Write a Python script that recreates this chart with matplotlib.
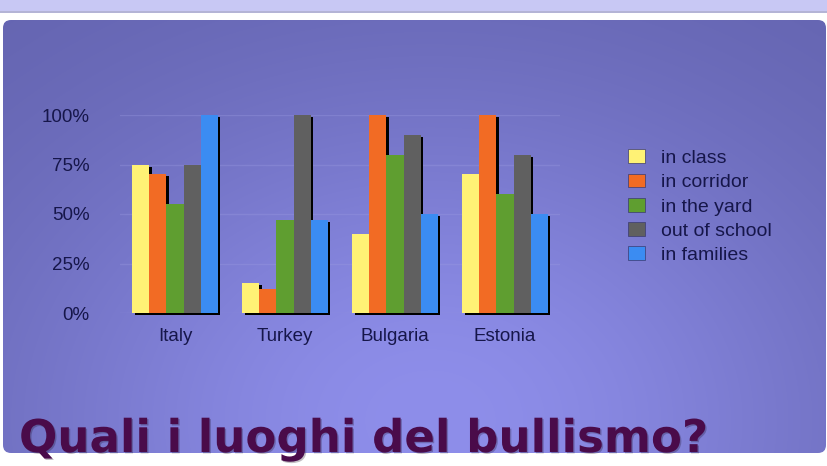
import numpy as np
import matplotlib
matplotlib.use("Agg")
import matplotlib.pyplot as plt
import matplotlib.patheffects as pe
from matplotlib.patches import FancyBboxPatch, Rectangle

countries = ["Italy", "Turkey", "Bulgaria", "Estonia"]
places = ["in class", "in corridor", "in the yard", "out of school", "in families"]
in_class = [75, 15, 40, 70]
in_corridor = [70, 12, 100, 100]
in_the_yard = [55, 47, 80, 60]
out_of_school = [75, 100, 90, 80]
in_families = [100, 47, 50, 50]
yticks = [0, 25, 50, 75, 100]
ytick_labels = ["0%", "25%", "50%", "75%", "100%"]
title = "Quali i luoghi del bullismo?"

series = [in_class, in_corridor, in_the_yard, out_of_school, in_families]
colors = ["#fff275", "#f26b24", "#5f9e30", "#606060", "#3b8cf2"]
text_col = "#16164a"

W, H = 828, 466
fig = plt.figure(figsize=(W / 100, H / 100), dpi=100, facecolor="white")


def fx(px):
    return px / W


def fy(py):
    # pixel from top -> figure fraction from bottom
    return 1 - py / H


# top lavender band
fig.patches.append(Rectangle((0, fy(12)), 1, 12 / H, transform=fig.transFigure,
                             facecolor="#c8c8f4", edgecolor="none", zorder=0))
fig.patches.append(Rectangle((0, fy(13)), 1, 1.5 / H, transform=fig.transFigure,
                             facecolor="#b4b4d6", edgecolor="none", zorder=0))

# rounded purple panel with a soft gradient
bg = fig.add_axes([0, 0, 1, 1], zorder=-1)
bg.set_xlim(0, W)
bg.set_ylim(H, 0)
bg.axis("off")
yy, xx = np.mgrid[0:H, 0:W]
t = np.exp(-((xx - 430) / 430.0) ** 2 - ((yy - 420) / 330.0) ** 2)
dark = np.array([0x62, 0x62, 0xad]) / 255
light = np.array([0x8e, 0x8e, 0xea]) / 255
img = dark + (light - dark) * t[..., None]
panel = FancyBboxPatch((3, 20), 823, 433, boxstyle="round,pad=0,rounding_size=8",
                       facecolor="none", edgecolor="none", transform=bg.transData)
bg.add_patch(panel)
im = bg.imshow(img, extent=(0, W, H, 0), aspect="auto", interpolation="bilinear")
im.set_clip_path(panel)

# bar chart
ax = fig.add_axes([fx(120), fy(313), 440 / W, 198 / H])
ax.patch.set_visible(False)
x = np.arange(len(countries))
width = 0.155
for i, (vals, col) in enumerate(zip(series, colors)):
    bars = ax.bar(x + (i - 2) * width, vals, width, color=col, label=places[i],
                  edgecolor="none", zorder=3, clip_on=False)
    for b in bars:
        b.set_path_effects([pe.SimplePatchShadow(offset=(2, -1.5), shadow_rgbFace="black",
                                                 alpha=1.0), pe.Normal()])

ax.set_xlim(-0.5, 3.5)
ax.set_ylim(0, 100)
ax.set_yticks(yticks)
ax.set_yticklabels(ytick_labels)
ax.set_xticks(x)
ax.set_xticklabels(countries)
for s in ax.spines.values():
    s.set_visible(False)
ax.tick_params(length=0, labelsize=13.5, labelcolor=text_col)
ax.tick_params(axis="y", pad=22)
ax.tick_params(axis="x", pad=11)
for lab in ax.get_xticklabels() + ax.get_yticklabels():
    lab.set_fontfamily("Liberation Sans")
ax.grid(axis="y", color="#9a9ae0", linewidth=1, alpha=0.35, zorder=0)

leg = ax.legend(loc="upper left", bbox_to_anchor=(fx(611), fy(132)),
                bbox_transform=fig.transFigure, frameon=False,
                prop={"family": "Liberation Sans", "size": 14},
                handlelength=0.85, handleheight=0.7, handletextpad=0.8,
                labelspacing=0.34)
for txt in leg.get_texts():
    txt.set_color(text_col)
for h in leg.legend_handles:
    h.set_path_effects([])
    h.set_edgecolor("#3a3a70")
    h.set_linewidth(0.5)

fig.text(fx(19), fy(452), title, fontsize=32.5, fontweight="bold",
         color="#4a0b4a", family="DejaVu Sans", ha="left", va="baseline",
         path_effects=[pe.withSimplePatchShadow(offset=(1, -1), alpha=0.25)])

fig.savefig("out.png", dpi=100, facecolor="white")
